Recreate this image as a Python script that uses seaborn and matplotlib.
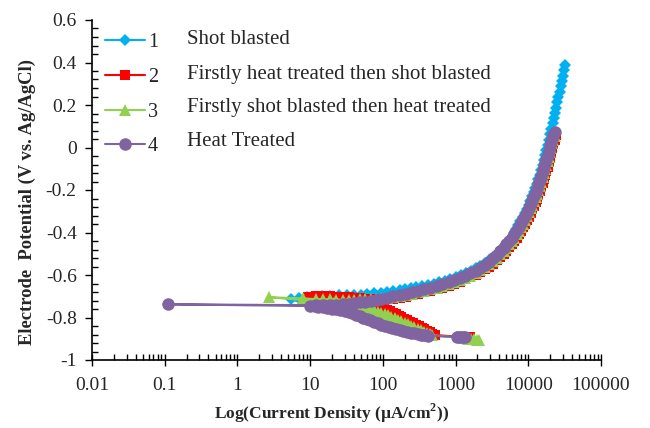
import numpy as np
import pandas as pd
import matplotlib
matplotlib.use("Agg")
import matplotlib.pyplot as plt
import seaborn as sns
from matplotlib.ticker import FixedLocator, MultipleLocator, LogLocator, FuncFormatter, NullFormatter
from matplotlib.lines import Line2D

# ---------------- data (current density in uA/cm2, potential in V) ----------------
labels = ["1", "2", "3", "4"]
descriptions = ["Shot blasted",
                "Firstly heat treated then shot blasted",
                "Firstly shot blasted then heat treated",
                "Heat Treated"]

# 1 Shot blasted
i1 = [1050, 420, 300, 190, 120, 75, 48, 30, 17, 10, 5.4,
      7, 9, 11.5, 14.5, 19, 25, 32, 40, 50, 60, 75, 95, 115, 140, 170, 200, 240,
      290, 350, 420, 500, 600, 720, 850, 1000, 1200, 1400, 1650, 1900, 2200, 2550,
      2900, 3300, 3700, 4100, 4500, 5000, 5400, 5900, 6300, 6800, 7300, 7800, 8400,
      8900, 9500, 10100, 10700, 11300, 11900, 12500, 13100, 13700, 14400, 15000,
      15700, 16300, 17000, 17700, 18500, 19200, 20000, 20800, 21600, 22400, 23300,
      24200, 25100, 26000, 27000, 28000, 29000, 30000, 31000, 32000]
e1 = [-0.892, -0.885, -0.878, -0.864, -0.845, -0.820, -0.793, -0.770, -0.755, -0.746, -0.712,
      -0.708, -0.705, -0.702, -0.700, -0.698, -0.696, -0.695, -0.694, -0.692, -0.690,
      -0.687, -0.683, -0.680, -0.676, -0.672, -0.667, -0.662, -0.657, -0.652, -0.646,
      -0.640, -0.633, -0.626, -0.618, -0.610, -0.600, -0.590, -0.580, -0.569, -0.557,
      -0.543, -0.530, -0.515, -0.500, -0.485, -0.470, -0.453, -0.437, -0.420, -0.403,
      -0.385, -0.367, -0.348, -0.328, -0.309, -0.290, -0.270, -0.250, -0.230, -0.210,
      -0.190, -0.170, -0.150, -0.128, -0.105, -0.083, -0.060, -0.037, -0.013, 0.012,
      0.037, 0.062, 0.088, 0.113, 0.138, 0.162, 0.188, 0.213, 0.238, 0.262, 0.288,
      0.313, 0.338, 0.363, 0.388]

# 2 Firstly heat treated then shot blasted
i2 = [1600, 1500, 1400, 1300, 1200, 520, 480, 440, 405, 370, 340, 310, 285, 260, 237,
      215, 197, 180, 165, 150, 137, 125, 115, 105, 95, 85, 72, 60, 50, 40, 32, 25,
      19, 15, 12, 9.4,
      12, 15, 19, 23, 28, 34, 40, 48, 57, 68, 80, 95, 115, 140, 170, 205, 250, 300,
      370, 450, 550, 660, 800, 960, 1150, 1350, 1600, 1900, 2200, 2550, 2900, 3300,
      3700, 4100, 4600, 5000, 5500, 5900, 6400, 6900, 7400, 7900, 8500, 9000, 9600,
      10200, 10800, 11400, 12000, 12600, 13200, 13800, 14500, 15100, 15800, 16400,
      17000, 17700, 18400, 19100, 19900, 20700, 21500, 22200, 23000, 23800]
e2 = [-0.893, -0.893, -0.893, -0.892, -0.892, -0.882, -0.876, -0.870, -0.863, -0.856,
      -0.849, -0.842, -0.835, -0.828, -0.820, -0.813, -0.806, -0.798, -0.791, -0.784,
      -0.777, -0.770, -0.764, -0.757, -0.751, -0.745, -0.740, -0.735, -0.729, -0.722,
      -0.717, -0.712, -0.708, -0.705, -0.703, -0.702,
      -0.701, -0.701, -0.701, -0.702, -0.703, -0.705, -0.707, -0.709, -0.711, -0.713,
      -0.714, -0.714, -0.713, -0.711, -0.707, -0.702, -0.696, -0.690, -0.682, -0.675,
      -0.667, -0.659, -0.650, -0.641, -0.631, -0.621, -0.611, -0.599, -0.587, -0.574,
      -0.561, -0.546, -0.531, -0.516, -0.500, -0.486, -0.470, -0.456, -0.440, -0.424,
      -0.408, -0.392, -0.375, -0.360, -0.343, -0.326, -0.308, -0.291, -0.274, -0.258,
      -0.242, -0.224, -0.204, -0.186, -0.166, -0.148, -0.130, -0.110, -0.090, -0.070,
      -0.048, -0.026, -0.004, 0.015, 0.036, 0.058]

# 3 Firstly shot blasted then heat treated
i3 = [2100, 1950, 1800, 1650, 1500, 480, 440, 400, 365, 330, 300, 270, 245, 220, 200,
      180, 162, 145, 131, 118, 106, 95, 85, 75, 66, 58, 50, 42, 35, 28, 21, 15, 2.75,
      8, 12, 15, 19, 23, 28, 34, 40, 48, 57, 68, 80, 95, 115, 140, 170, 205, 250, 300,
      370, 450, 550, 660, 800, 960, 1150, 1350, 1600, 1900, 2200, 2550, 2900, 3300,
      3700, 4100, 4600, 5000, 5500, 5900, 6400, 6900, 7400, 7900, 8500, 9000, 9600,
      10200, 10800, 11400, 12000, 12600, 13200, 13800, 14500, 15100, 15800, 16400,
      17000, 17700, 18400, 19100, 19900, 20700, 21500, 22200, 23000]
e3 = [-0.905, -0.904, -0.902, -0.901, -0.900, -0.883, -0.878, -0.872, -0.866, -0.860,
      -0.853, -0.846, -0.839, -0.832, -0.825, -0.818, -0.811, -0.804, -0.797, -0.790,
      -0.784, -0.778, -0.772, -0.766, -0.760, -0.755, -0.750, -0.745, -0.740, -0.735,
      -0.730, -0.725, -0.705,
      -0.710, -0.713, -0.714, -0.715, -0.716, -0.716, -0.716, -0.716, -0.715, -0.714,
      -0.713, -0.711, -0.709, -0.706, -0.702, -0.698, -0.693, -0.688, -0.682, -0.675,
      -0.668, -0.660, -0.652, -0.643, -0.634, -0.624, -0.614, -0.603, -0.591, -0.578,
      -0.564, -0.550, -0.535, -0.519, -0.503, -0.487, -0.472, -0.456, -0.441, -0.425,
      -0.408, -0.391, -0.375, -0.358, -0.341, -0.323, -0.305, -0.287, -0.270, -0.252,
      -0.235, -0.218, -0.199, -0.179, -0.160, -0.140, -0.121, -0.103, -0.083, -0.063,
      -0.043, -0.022, -0.001, 0.019, 0.037, 0.056]

# 4 Heat Treated
i4 = [1350, 1270, 1200, 1120, 1050, 420, 390, 360, 330, 300, 270, 240, 215, 190, 170,
      150, 135, 120, 107, 95, 85, 75, 67, 60, 54, 48, 43, 38, 34, 30, 26, 23, 20, 17,
      15, 13, 11.5, 10, 0.11,
      12, 15, 19, 23, 28, 34, 40, 48, 57, 68, 80, 95, 115, 140, 170, 205, 250, 300,
      370, 450, 550, 660, 800, 960, 1150, 1350, 1600, 1900, 2200, 2550, 2900, 3300,
      3700, 4100, 4600, 5000, 5500, 5900, 6400, 6900, 7400, 7900, 8500, 9000, 9600,
      10200, 10800, 11400, 12000, 12600, 13200, 13800, 14500, 15100, 15800, 16400,
      17000, 17700, 18400, 19100, 19900, 20700, 21500, 22200, 23000]
e4 = [-0.893, -0.893, -0.893, -0.892, -0.892, -0.885, -0.884, -0.882, -0.880, -0.878,
      -0.875, -0.872, -0.868, -0.864, -0.860, -0.855, -0.850, -0.845, -0.839, -0.833,
      -0.827, -0.820, -0.813, -0.806, -0.800, -0.793, -0.786, -0.780, -0.775, -0.770,
      -0.766, -0.762, -0.758, -0.755, -0.752, -0.750, -0.748, -0.746, -0.738,
      -0.742, -0.741, -0.740, -0.739, -0.737, -0.735, -0.732, -0.728, -0.725, -0.721,
      -0.717, -0.712, -0.707, -0.701, -0.695, -0.689, -0.682, -0.676, -0.668, -0.660,
      -0.652, -0.643, -0.634, -0.624, -0.614, -0.603, -0.592, -0.579, -0.566, -0.552,
      -0.537, -0.521, -0.505, -0.489, -0.472, -0.456, -0.440, -0.424, -0.408, -0.390,
      -0.372, -0.355, -0.338, -0.320, -0.302, -0.283, -0.263, -0.246, -0.228, -0.211,
      -0.193, -0.172, -0.152, -0.132, -0.112, -0.094, -0.075, -0.055, -0.035, -0.015,
      0.005, 0.024, 0.042, 0.058, 0.075]

x_ticks = [0.01, 0.1, 1, 10, 100, 1000, 10000, 100000]
y_ticks = [-1, -0.8, -0.6, -0.4, -0.2, 0, 0.2, 0.4, 0.6]

# ---------------- style ----------------
sns.set_theme(style="white")
plt.rcParams["font.family"] = ["Liberation Serif", "DejaVu Serif"]
plt.rcParams["axes.unicode_minus"] = False
plt.rcParams["mathtext.fontset"] = "custom"
plt.rcParams["mathtext.rm"] = "Liberation Serif"
plt.rcParams["mathtext.bf"] = "Liberation Serif:bold"

colors = ["#00B0F0", "#FF0000", "#92D050", "#8064A2"]
markers = ["D", "s", "^", "o"]
msizes = [6.5, 7.0, 8.0, 9.0]

fig = plt.figure(figsize=(6.5, 4.28), dpi=100)
ax = fig.add_axes([92 / 650, 1 - 360 / 428, (601 - 92) / 650, 340 / 428])
ax.set_xscale("log")

series = [(i1, e1), (i2, e2), (i3, e3), (i4, e4)]
handles = []
for k, (ii, ee) in enumerate(series):
    df = pd.DataFrame({"i": ii, "E": ee})
    sns.lineplot(data=df, x="i", y="E", sort=False, estimator=None, ax=ax,
                 color=colors[k], marker=markers[k], markersize=msizes[k],
                 markeredgewidth=0, linewidth=1.5, zorder=2 + k)
    handles.append(Line2D([], [], color=colors[k], marker=markers[k],
                          markersize=msizes[k], markeredgewidth=0, linewidth=1.5))

ax.set_xlim(0.01, 100000)
ax.set_ylim(-1, 0.6)

ax.xaxis.set_major_locator(FixedLocator(x_ticks))
ax.xaxis.set_major_formatter(FuncFormatter(lambda v, p: "%g" % v))
ax.xaxis.set_minor_locator(LogLocator(base=10, subs=np.arange(2, 10), numticks=20))
ax.xaxis.set_minor_formatter(NullFormatter())
ax.yaxis.set_major_locator(FixedLocator(y_ticks))
ax.yaxis.set_major_formatter(FuncFormatter(lambda v, p: "%g" % round(v, 2)))
ax.yaxis.set_minor_locator(MultipleLocator(0.04))

ax.tick_params(axis="both", which="major", labelsize=14, color="black",
               width=1, length=5, pad=6)
ax.tick_params(axis="x", which="major", direction="inout", length=8, pad=8)
ax.tick_params(axis="y", which="major", direction="out", length=5)
ax.tick_params(axis="both", which="minor", direction="in", length=4,
               width=1, color="black")
ax.tick_params(bottom=True, left=True, which="both")

for s in ["top", "right"]:
    ax.spines[s].set_visible(False)
for s in ["left", "bottom"]:
    ax.spines[s].set_color("black")
    ax.spines[s].set_linewidth(1.2)

ax.set_xlabel(r"Log(Current Density (µA/cm$^{\mathbf{2}}$))", fontsize=12.5,
              fontweight="bold")
ax.set_ylabel("Electrode  Potential (V vs. Ag/AgCl)", fontsize=13.4,
              fontweight="bold")
ax.xaxis.set_label_coords((332 - 92) / 509, -(413 - 360) / 340, transform=ax.transAxes)
ax.xaxis.label.set_va("center")
ax.yaxis.set_label_coords(-(92 - 27) / 509, (360 - 202) / 340, transform=ax.transAxes)
ax.yaxis.label.set_va("center")

leg = ax.legend(handles, labels, loc="upper left",
                bbox_to_anchor=(0.025, 0.962), frameon=False, fontsize=14.5,
                handlelength=2.0, handletextpad=0.15, labelspacing=0.78,
                borderpad=0, borderaxespad=0)

ys = [40, 74, 108, 142]
for d, yy in zip(descriptions, ys):
    fig.text(187 / 650, 1 - yy / 428, d, fontsize=15, va="center", ha="left")

fig.savefig("out.png", dpi=100)
